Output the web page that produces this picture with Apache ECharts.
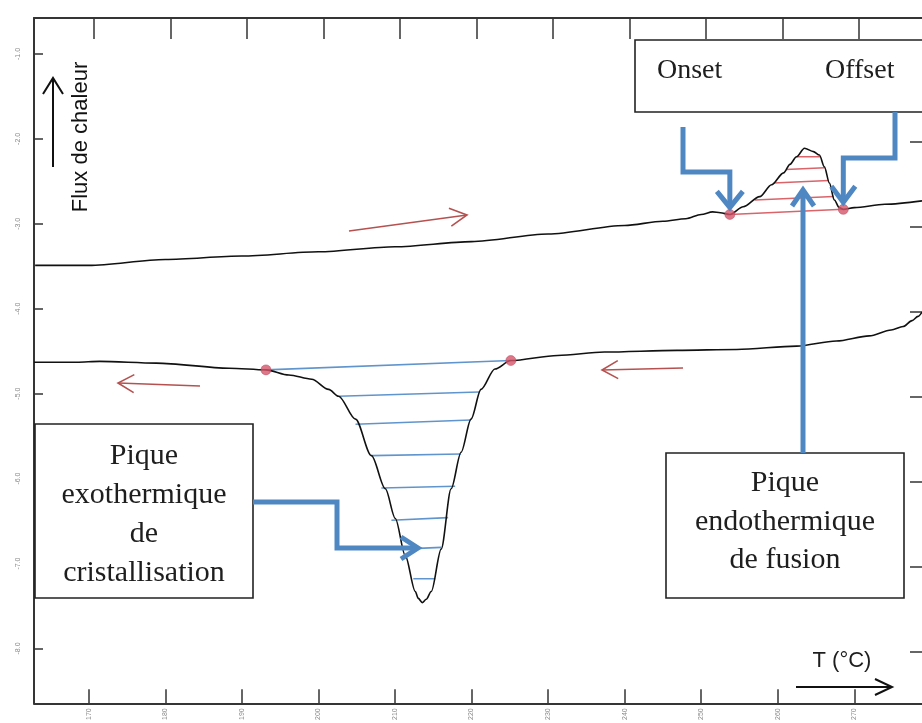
<!DOCTYPE html>
<html>
<head>
<meta charset="utf-8">
<script src="https://cdn.jsdelivr.net/npm/echarts@6/dist/echarts.min.js"></script>
<style>
  html, body { margin: 0; padding: 0; background: #ffffff; }
  #chart { width: 922px; height: 723px; }
</style>
</head>
<body>
<div id="chart"></div>
<script>
// Temperature (°C) tick values and heat-flow tick values
const tempTicks = [170, 180, 190, 200, 210, 220, 230, 240, 250, 260, 270];
const flowTicks = [-8, -7, -6, -5, -4, -3, -2, -1];

// Heating scan (melting)
const heatT = [163, 170, 180, 190, 200, 210, 220, 230, 240, 245, 248, 250, 251.5, 252.5, 253.75,
  255.5, 257.65, 259.2, 260.77, 261.6, 262.46, 263.5, 264.67, 265.45, 266.1, 266.75, 267.4,
  268.05, 268.57, 270, 274, 278.85];
const heatFlow = [-3.49, -3.49, -3.42, -3.38, -3.33, -3.27, -3.21, -3.12, -3.02, -2.97, -2.94, -2.89, -2.86, -2.87, -2.89,
  -2.80, -2.68, -2.54, -2.40, -2.30, -2.21, -2.11, -2.15, -2.19, -2.33, -2.52, -2.72,
  -2.81, -2.83, -2.81, -2.77, -2.73];

// Cooling scan (crystallisation)
const coolT = [162.85, 168.44, 171.43, 178.84, 188.34, 193.15, 196.14, 199.13, 201.34, 202.64, 204.85,
  206.93, 208.75, 210.05, 211.36, 212.66, 213.05, 213.57, 214.09, 214.74, 216.04, 217.34, 218.64,
  219.94, 221.24, 223.06, 225.14, 231.25, 237.36, 246.86, 254.66, 262.46, 267.66, 271.96, 274.82,
  276.38, 277.55, 278.33, 278.85];
const coolFlow = [-4.63, -4.63, -4.62, -4.64, -4.70, -4.72, -4.78, -4.83, -4.95, -5.03, -5.30,
  -5.73, -6.12, -6.47, -6.91, -7.33, -7.41, -7.46, -7.42, -7.33, -6.83, -6.12, -5.69,
  -5.30, -4.95, -4.71, -4.61, -4.55, -4.51, -4.49, -4.48, -4.44, -4.38, -4.32, -4.25,
  -4.21, -4.14, -4.09, -4.04];

// Onset / offset of the melting peak and limits of the crystallisation peak
const meltLimitsT = [253.75, 268.57];
const meltLimitsFlow = [-2.89, -2.83];
const crystLimitsT = [193.15, 225.14];
const crystLimitsFlow = [-4.72, -4.61];

// Hatching of the crystallisation peak area: [T start, T end, flow start, flow end]
const crystHatchT0 = [193.15, 202.64, 204.85, 206.93, 208.23, 209.54, 210.84, 212.40];
const crystHatchT1 = [225.14, 220.98, 219.94, 218.64, 217.86, 216.95, 216.04, 215.26];
const crystHatchF0 = [-4.72, -5.03, -5.36, -5.73, -6.11, -6.49, -6.83, -7.18];
const crystHatchF1 = [-4.61, -4.98, -5.31, -5.71, -6.09, -6.46, -6.81, -7.18];

// Hatching of the melting peak area
const meltHatchT0 = [253.75, 257.0, 259.47, 261.08, 262.46];
const meltHatchT1 = [268.57, 267.29, 266.67, 266.14, 265.56];
const meltHatchF0 = [-2.89, -2.72, -2.52, -2.36, -2.21];
const meltHatchF1 = [-2.83, -2.68, -2.49, -2.34, -2.21];

const X_MIN = 162.85, X_MAX = 278.85;
const Y_MIN = -8.646, Y_MAX = -0.577;

const chart = echarts.init(document.getElementById('chart'), null, { renderer: 'canvas' });

const frameColor = '#353535';
const blue = '#4f87c3';
const hatchBlue = '#5f95cc';
const hatchRed = '#d9646a';
const dotRed = '#d6566a';
const arrowRed = '#b5514e';
const serif = "'Liberation Serif', 'Times New Roman', serif";
const sans = "'Liberation Sans', Arial, sans-serif";

function zip(a, b) { return a.map((v, i) => [v, b[i]]); }

function segmentSeries(t0, t1, f0, f1, color, width) {
  return t0.map((_, i) => ({
    type: 'line',
    data: [[t0[i], f0[i]], [t1[i], f1[i]]],
    symbol: 'none',
    lineStyle: { color: color, width: width },
    silent: true,
    z: 2
  }));
}

const series = [
  ...segmentSeries(crystHatchT0, crystHatchT1, crystHatchF0, crystHatchF1, hatchBlue, 1.6),
  ...segmentSeries(meltHatchT0, meltHatchT1, meltHatchF0, meltHatchF1, hatchRed, 1.5),
  {
    type: 'line', name: 'heating',
    data: zip(heatT, heatFlow),
    symbol: 'none', smooth: 0.3, smoothMonotone: 'x',
    lineStyle: { color: '#111', width: 1.6 }, z: 3
  },
  {
    type: 'line', name: 'cooling',
    data: zip(coolT, coolFlow),
    symbol: 'none', smooth: 0.3, smoothMonotone: 'x',
    lineStyle: { color: '#111', width: 1.6 }, z: 3
  },
  {
    type: 'scatter', name: 'limits',
    data: zip(meltLimitsT.concat(crystLimitsT), meltLimitsFlow.concat(crystLimitsFlow)),
    symbolSize: 10,
    itemStyle: { color: dotRed, borderColor: '#b0435a', borderWidth: 0.6 },
    z: 5
  }
];

const baseAxis = {
  type: 'value',
  splitLine: { show: false },
  axisLine: { show: true, onZero: false, lineStyle: { color: frameColor, width: 2 } }
};

chart.setOption({
  animation: false,
  backgroundColor: '#ffffff',
  grid: { left: 34, top: 18, right: -4, bottom: 18, containLabel: false },
  xAxis: [
    Object.assign({}, baseAxis, {
      position: 'bottom', min: X_MIN, max: X_MAX,
      axisTick: { show: true, inside: true, length: 14, customValues: tempTicks,
        lineStyle: { color: frameColor, width: 1.5 } },
      axisLabel: { show: true, customValues: tempTicks, rotate: 90, fontSize: 7,
        color: '#8a8a8a', margin: 5, fontFamily: sans }
    }),
    Object.assign({}, baseAxis, {
      position: 'top', min: X_MIN - 0.65, max: X_MAX - 0.65,
      axisTick: { show: true, inside: true, length: 21, customValues: tempTicks,
        lineStyle: { color: frameColor, width: 1.5 } },
      axisLabel: { show: false }
    })
  ],
  yAxis: [
    Object.assign({}, baseAxis, {
      position: 'left', min: Y_MIN, max: Y_MAX,
      axisTick: { show: true, inside: true, length: 9, customValues: flowTicks,
        lineStyle: { color: frameColor, width: 1.5 } },
      axisLabel: { show: true, customValues: flowTicks, rotate: 90, fontSize: 7,
        color: '#8a8a8a', margin: 12, fontFamily: sans,
        formatter: v => v.toFixed(1) }
    }),
    Object.assign({}, baseAxis, {
      position: 'right', min: Y_MIN + 0.035, max: Y_MAX + 0.035,
      axisLine: { show: false, onZero: false },
      axisTick: { show: true, inside: true, length: 12, customValues: flowTicks,
        lineStyle: { color: frameColor, width: 1.5 } },
      axisLabel: { show: false }
    })
  ],
  series: series
});

// ---- Annotations: boxes, captions and arrows ----
function toPx(t, f) {
  return chart.convertToPixel({ xAxisIndex: 0, yAxisIndex: 0 }, [t, f]);
}

function arrow(pts, color, width, headLen, headHalf) {
  const n = pts.length;
  const [x1, y1] = pts[n - 2];
  const [x2, y2] = pts[n - 1];
  const len = Math.hypot(x2 - x1, y2 - y1);
  const ux = (x2 - x1) / len, uy = (y2 - y1) / len;
  const bx = x2 - ux * headLen, by = y2 - uy * headLen;
  const a = [bx - uy * headHalf, by + ux * headHalf];
  const b = [bx + uy * headHalf, by - ux * headHalf];
  const style = { stroke: color, lineWidth: width, fill: null, lineJoin: 'miter', lineCap: 'butt' };
  return [
    { type: 'polyline', shape: { points: pts }, style: style, z: 20 },
    { type: 'polyline', shape: { points: [a, [x2, y2], b] }, style: style, z: 20 }
  ];
}

function box(x, y, w, h) {
  return { type: 'rect', shape: { x: x, y: y, width: w, height: h },
    style: { fill: '#ffffff', stroke: '#222', lineWidth: 1.6 }, z: 15 };
}

function caption(x, y, text, size, family, lineHeight) {
  return { type: 'text', x: x, y: y, z: 25,
    style: { text: text, fontSize: size, fontFamily: family, fill: '#1e1e1e',
      align: 'center', verticalAlign: 'middle', lineHeight: lineHeight || size } };
}

const onsetPx = toPx(meltLimitsT[0], meltLimitsFlow[0]);
const offsetPx = toPx(meltLimitsT[1], meltLimitsFlow[1]);

const graphics = [
  // Onset / Offset box
  box(635, 40, 295, 72),
  { type: 'text', x: 657, y: 71, z: 25,
    style: { text: 'Onset', fontSize: 28, fontFamily: serif, fill: '#1e1e1e', align: 'left', verticalAlign: 'middle' } },
  { type: 'text', x: 825, y: 71, z: 25,
    style: { text: 'Offset', fontSize: 28, fontFamily: serif, fill: '#1e1e1e', align: 'left', verticalAlign: 'middle' } },

  // Exothermic peak box
  box(35, 424, 218, 174),
  caption(144, 515, 'Pique\nexothermique\nde\ncristallisation', 30, serif, 39),

  // Endothermic peak box
  box(666, 453, 238, 145),
  caption(785, 522, 'Pique\nendothermique\nde fusion', 30, serif, 38.5),

  // Axis captions
  { type: 'text', x: 81, y: 137, rotation: Math.PI / 2, z: 25,
    style: { text: 'Flux de chaleur', fontSize: 22, fontFamily: sans, fill: '#111',
      align: 'center', verticalAlign: 'middle' } },
  caption(842, 661, 'T (°C)', 22, sans),

  // Blue pointer arrows
  ...arrow([[683, 127], [683, 172], [onsetPx[0], 172], [onsetPx[0], onsetPx[1] - 7]], blue, 5, 16, 13),
  ...arrow([[895, 112], [895, 158], [offsetPx[0], 158], [offsetPx[0], offsetPx[1] - 7]], blue, 5, 16, 12),
  ...arrow([[803, 453], [803, 190]], blue, 5, 16, 11),
  ...arrow([[253, 502], [337, 502], [337, 548], [418, 548]], blue, 5, 17, 11),

  // Scan direction arrows
  ...arrow([[349, 231], [467, 215]], arrowRed, 1.6, 17, 9),
  ...arrow([[200, 386], [118, 383]], arrowRed, 1.6, 16, 9),
  ...arrow([[683, 368], [602, 370]], arrowRed, 1.6, 16, 9),

  // Axis direction arrows
  ...arrow([[53, 167], [53, 78]], '#111', 2, 16, 10),
  ...arrow([[796, 687], [892, 687]], '#111', 2, 17, 8)
];

chart.setOption({ graphic: graphics });
</script>
</body>
</html>
